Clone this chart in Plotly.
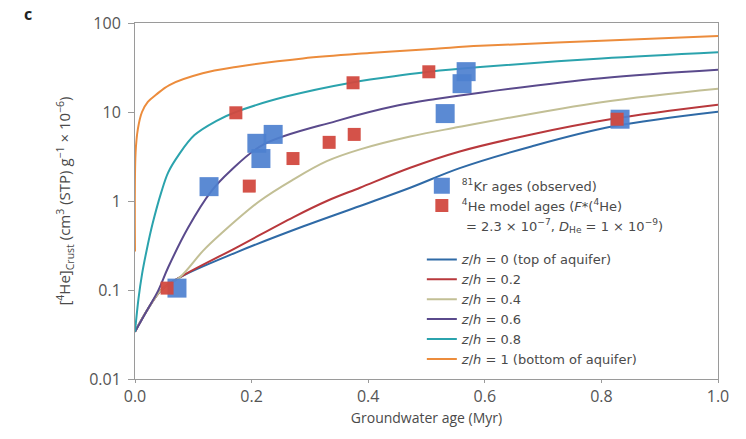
import plotly.graph_objects as go

# Observed 81Kr ages
kr_age = [0.072, 0.127, 0.209, 0.216, 0.237, 0.532, 0.561, 0.568, 0.832]
kr_he = [0.105, 1.45, 4.45, 3.0, 5.6, 9.6, 20.8, 28.4, 8.3]

# 4He model ages
he_age = [0.055, 0.173, 0.196, 0.271, 0.333, 0.376, 0.374, 0.504, 0.827]
he_he = [0.105, 9.8, 1.47, 3.0, 4.56, 5.6, 21.3, 28.3, 8.3]

# Model curves
z0_x = [0, 0.02, 0.045, 0.077, 0.174, 0.289, 0.386, 0.472, 0.557, 0.68, 0.82, 1.0]
z0_y = [0.034, 0.058, 0.1, 0.139, 0.265, 0.52, 0.88, 1.41, 2.34, 4.1, 6.9, 10.1]

z02_x = [0, 0.02, 0.045, 0.077, 0.174, 0.272, 0.329, 0.386, 0.472, 0.557, 0.68, 0.82, 1.0]
z02_y = [0.034, 0.058, 0.1, 0.139, 0.30, 0.66, 1.0, 1.41, 2.36, 3.6, 5.6, 8.4, 12.1]

z04_x = [0, 0.02, 0.045, 0.077, 0.117, 0.146, 0.214, 0.272, 0.329, 0.386, 0.472, 0.546, 0.8, 1.0]
z04_y = [0.034, 0.058, 0.1, 0.139, 0.277, 0.42, 1.0, 1.75, 2.8, 3.8, 5.3, 6.6, 12.9, 18.3]

z06_x = [0, 0.02, 0.04, 0.057, 0.091, 0.131, 0.163, 0.22, 0.345, 0.45, 0.516, 0.592, 0.8, 1.0]
z06_y = [0.034, 0.058, 0.099, 0.18, 0.5, 1.29, 2.16, 4.3, 7.9, 11.8, 14.0, 16.5, 24.0, 29.8]

z08_x = [0, 0.006, 0.012, 0.02, 0.03, 0.045, 0.057, 0.075, 0.102, 0.139, 0.173, 0.259, 0.373, 0.459, 0.504, 0.592, 0.8, 1.0]
z08_y = [0.034, 0.08, 0.15, 0.28, 0.55, 1.25, 2.1, 3.3, 5.5, 7.9, 10.0, 14.9, 21.5, 26.0, 28.3, 32.0, 40.0, 47.0]

z1_x = [0, 0.001, 0.005, 0.012, 0.022, 0.036, 0.059, 0.116, 0.173, 0.288, 0.402, 0.516, 0.592, 0.8, 1.0]
z1_y = [0.27, 3.5, 6.5, 10.0, 13.0, 15.6, 20.1, 27.2, 32.0, 40.0, 46.0, 51.5, 55.4, 63.0, 71.4]

curve_names = ["<i>z</i>/<i>h</i> = 0 (top of aquifer)", "<i>z</i>/<i>h</i> = 0.2", "<i>z</i>/<i>h</i> = 0.4",
               "<i>z</i>/<i>h</i> = 0.6", "<i>z</i>/<i>h</i> = 0.8", "<i>z</i>/<i>h</i> = 1 (bottom of aquifer)"]
curve_x = [z0_x, z02_x, z04_x, z06_x, z08_x, z1_x]
curve_y = [z0_y, z02_y, z04_y, z06_y, z08_y, z1_y]
curve_colors = ["#2f6aa6", "#b8383c", "#c2bf95", "#5a4a8c", "#2ba3ad", "#ec8c3c"]

x_ticks = [0, 0.2, 0.4, 0.6, 0.8, 1.0]
y_ticks = [0.01, 0.1, 1, 10, 100]
y_tick_text = ["0.01", "0.1", "1", "10", "100"]

FONT = "'Open Sans', 'Noto Sans', sans-serif"

fig = go.Figure()

for i, (cx, cy, nm, col) in enumerate(zip(curve_x, curve_y, curve_names, curve_colors)):
    fig.add_trace(go.Scatter(
        x=cx, y=cy, mode="lines", name=nm,
        line=dict(color=col, width=2, shape="spline", smoothing=1.0),
        legendgroup="curves", legendrank=10 + i,
    ))

fig.add_trace(go.Scatter(
    x=kr_age, y=kr_he, mode="markers", name="<sup>81</sup>Kr ages (observed)",
    marker=dict(symbol="square", size=19, color="#4d80cf", opacity=0.92),
    legendgroup="pts", legendrank=1,
))
fig.add_trace(go.Scatter(
    x=he_age, y=he_he, mode="markers",
    name="<sup>4</sup>He model ages (<i>F</i>*(<sup>4</sup>He)",
    marker=dict(symbol="square", size=13, color="#d2493f", opacity=0.95),
    legendgroup="pts", legendrank=2,
))
# continuation line of the 4He legend text (no symbol)
fig.add_trace(go.Scatter(
    x=[None], y=[None], mode="markers",
    name=" = 2.3 × 10<sup>−7</sup>, <i>D</i><sub>He</sub> = 1 × 10<sup>−9</sup>)",
    marker=dict(symbol="square", size=1, color="rgba(0,0,0,0)"),
    legendgroup="pts", legendrank=3, hoverinfo="skip",
))

fig.update_layout(
    width=746, height=439,
    margin=dict(l=135, r=28, t=21, b=60),
    paper_bgcolor="white", plot_bgcolor="white",
    font=dict(family=FONT, size=14, color="#4a4a4a"),
    showlegend=True,
    legend=dict(
        x=0.492, y=0.585, xanchor="left", yanchor="top",
        bgcolor="rgba(255,255,255,0)",
        font=dict(family="'DejaVu Sans', sans-serif", size=13, color="#4a4a4a"),
        tracegroupgap=14, traceorder="grouped",
    ),
    xaxis=dict(
        range=[0, 1], tickvals=x_ticks, tickformat=".1f",
        showline=True, linecolor="#9a9a9a", linewidth=1, mirror=True,
        ticks="outside", ticklen=3, tickcolor="#9a9a9a",
        showgrid=False, zeroline=False,
        title=dict(text="Groundwater age (Myr)", font=dict(size=14), standoff=6),
        tickfont=dict(size=16, color="#555555"),
    ),
    yaxis=dict(
        type="log", range=[-2, 2], tickvals=y_ticks, ticktext=y_tick_text,
        showline=True, linecolor="#9a9a9a", linewidth=1, mirror=True,
        ticks="outside", ticklen=6, tickcolor="#9a9a9a",
        showgrid=False, zeroline=False, ticklabelstandoff=4,
        title=dict(text="[<sup>4</sup>He]<sub>Crust</sub> (cm<sup>3</sup> (STP) g<sup>−1</sup> × 10<sup>−6</sup>)",
                   font=dict(size=15), standoff=14),
        tickfont=dict(size=16, color="#555555"),
    ),
    annotations=[dict(text="<b>c</b>", x=-0.1835, y=1.025, xref="paper", yref="paper",
                      xanchor="center", yanchor="middle",
                      showarrow=False, font=dict(size=16, color="#222"))],
)

fig.write_html("out.html", config={"displayModeBar": False},
               post_script="document.body.style.margin='0px';")
